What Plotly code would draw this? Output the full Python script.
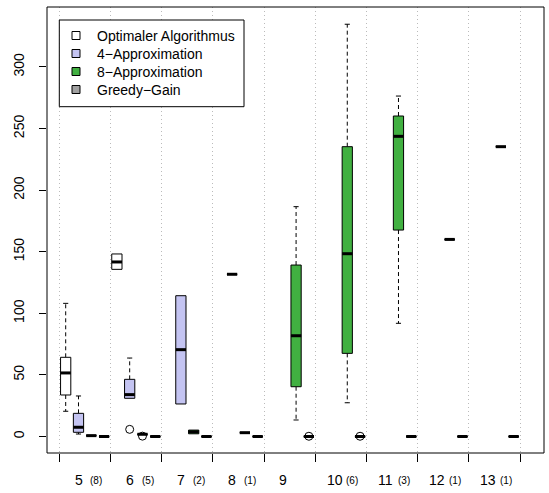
import plotly.graph_objects as go

# ---------------- data ----------------
groups = [5, 6, 7, 8, 9, 10, 11, 12, 13]
counts = ["(8)", "(5)", "(2)", "(1)", "", "(6)", "(3)", "(1)", "(1)"]
series_names = ["Optimaler Algorithmus", "4\u2212Approximation", "8\u2212Approximation", "Greedy\u2212Gain"]
series_colors = ["#FFFFFF", "#C4C4F2", "#41B041", "#A0A0A0"]

# (lower whisker, q1, median, q3, upper whisker) per group, None = no data
optimal = [(20.5, 33.7, 51.6, 64.3, 108.1), (135.7, 135.7, 141.7, 148.2, 148.2),
           None, None, None, None, None, None, None]
approx4 = [(2.0, 3.4, 7.5, 18.8, 32.9), (31.0, 31.0, 34.0, 46.4, 63.7),
           (26.4, 26.4, 70.5, 114.3, 114.3), (131.7, 131.7, 131.7, 131.7, 131.7),
           None, None, None, None, None]
approx8 = [(0.7, 0.7, 0.7, 0.7, 0.7), (1.8, 1.8, 1.8, 1.8, 1.8),
           (2.2, 2.2, 3.8, 5.2, 5.2), (3.1, 3.1, 3.1, 3.1, 3.1),
           (13.4, 40.4, 81.8, 139.2, 186.6), (27.4, 67.5, 148.4, 235.3, 334.7),
           (91.9, 167.6, 243.7, 260.2, 276.4), (160.0, 160.0, 160.0, 160.0, 160.0),
           (235.3, 235.3, 235.3, 235.3, 235.3)]
greedy = [(0, 0, 0, 0, 0)] * 9

optimal_out = [[], [], [], [], [], [], [], [], []]
approx4_out = [[], [5.8], [], [], [], [], [], [], []]
approx8_out = [[], [0.3], [], [], [], [], [], [], []]
greedy_out = [[], [], [], [], [0.2], [0.2], [], [], []]

all_stats = [optimal, approx4, approx8, greedy]
all_out = [optimal_out, approx4_out, approx8_out, greedy_out]

# ---------------- styling ----------------
FONT = "Liberation Sans, Arial, Helvetica, sans-serif"
W, H = 549, 493
PL, PR, PT, PB = 47, 544, 7, 453
BOXW = 0.8
STAPLE = 0.2


def px_x(px):
    return (px - PL) / (PR - PL)


def px_y(py):
    return (PB - py) / (PB - PT)


fig = go.Figure()
nser = len(series_names)

for s, stats in enumerate(all_stats):
    bx, by, mx, my, wx, wy, sx, sy, ox, oy = [], [], [], [], [], [], [], [], [], []
    for i, st in enumerate(stats):
        pos = nser * i + s + 1
        for v in all_out[s][i]:
            ox.append(pos)
            oy.append(v)
        if st is None:
            continue
        lo, q1, med, q3, hi = st
        bx += [pos - BOXW / 2, pos + BOXW / 2, pos + BOXW / 2, pos - BOXW / 2, pos - BOXW / 2, None]
        by += [q1, q1, q3, q3, q1, None]
        mx += [pos - BOXW / 2, pos + BOXW / 2, None]
        my += [med, med, None]
        if hi > q3:
            wx += [pos, pos, None]
            wy += [q3, hi, None]
            sx += [pos - STAPLE, pos + STAPLE, None]
            sy += [hi, hi, None]
        if lo < q1:
            wx += [pos, pos, None]
            wy += [q1, lo, None]
            sx += [pos - STAPLE, pos + STAPLE, None]
            sy += [lo, lo, None]
    fig.add_trace(go.Scatter(x=wx, y=wy, mode="lines", line=dict(color="black", width=1, dash="4px,3px"),
                             showlegend=False, hoverinfo="skip"))
    fig.add_trace(go.Scatter(x=sx, y=sy, mode="lines", line=dict(color="black", width=1),
                             showlegend=False, hoverinfo="skip"))
    fig.add_trace(go.Scatter(x=bx, y=by, mode="lines", fill="toself", fillcolor=series_colors[s],
                             line=dict(color="black", width=1), showlegend=False, hoverinfo="skip"))
    fig.add_trace(go.Scatter(x=mx, y=my, mode="lines", line=dict(color="black", width=3),
                             showlegend=False, hoverinfo="skip"))
    fig.add_trace(go.Scatter(x=ox, y=oy, mode="markers",
                             marker=dict(symbol="circle-open", size=8, color="black", line=dict(width=1)),
                             showlegend=False, hoverinfo="skip"))

# group boundaries
bounds = [nser * k + 0.5 for k in range(len(groups) + 1)]
centers = [nser * k + 2.5 for k in range(len(groups))]

annotations = []
for c, g, n in zip(centers, groups, counts):
    annotations.append(dict(x=c, y=0, xref="x", yref="paper", text=str(g), showarrow=False,
                            xanchor="center", yanchor="middle", xshift=-6.3, yshift=-27,
                            font=dict(family=FONT, size=14, color="black")))
    if n:
        annotations.append(dict(x=c, y=0, xref="x", yref="paper", text=n, showarrow=False,
                                xanchor="center", yanchor="middle", xshift=11.6, yshift=-27,
                                font=dict(family=FONT, size=10, color="black")))

shapes = [dict(type="rect", xref="paper", yref="paper", x0=0, x1=1, y0=0, y1=1,
               line=dict(color="black", width=1), fillcolor="rgba(0,0,0,0)", layer="above")]

# legend (drawn manually, R style)
shapes.append(dict(type="rect", xref="paper", yref="paper", x0=px_x(59.3), x1=px_x(244),
                   y0=px_y(106.7), y1=px_y(20), line=dict(color="black", width=1), fillcolor="white",
                   layer="above"))
row_y = [35.5, 53.5, 71.5, 89.5]
for name, col, ry in zip(series_names, series_colors, row_y):
    shapes.append(dict(type="rect", xref="paper", yref="paper", x0=px_x(72), x1=px_x(80),
                       y0=px_y(ry + 4), y1=px_y(ry - 4), line=dict(color="black", width=1),
                       fillcolor=col, layer="above"))
    annotations.append(dict(x=px_x(95), y=px_y(ry), xref="paper", yref="paper", text=name,
                            showarrow=False, xanchor="left", yanchor="middle",
                            font=dict(family=FONT, size=14, color="black")))

fig.update_layout(
    width=W, height=H,
    margin=dict(l=PL, r=W - PR, t=PT, b=H - PB, pad=0),
    paper_bgcolor="white", plot_bgcolor="white",
    font=dict(family=FONT, size=14, color="black"),
    showlegend=False,
    shapes=shapes,
    annotations=annotations,
    xaxis=dict(range=[-0.46, 38.37], tickmode="array", tickvals=bounds, showticklabels=False,
               ticks="outside", ticklen=8, tickwidth=1, tickcolor="black",
               showgrid=True, gridcolor="#BBBBBB", gridwidth=1, griddash="1px,3px",
               zeroline=False, showline=False, fixedrange=True),
    yaxis=dict(range=[-13.4, 348.7], tickmode="array", tickvals=[0, 50, 100, 150, 200, 250, 300],
               ticktext=["0", "50", "100", "150", "200", "250", "300"],
               ticks="outside", ticklen=7, tickwidth=1, tickcolor="black", tickangle=-90,
               ticklabelstandoff=9,
               tickfont=dict(family=FONT, size=14, color="black"),
               showgrid=False, zeroline=False, showline=False, fixedrange=True),
)

fig.write_html("out.html")
